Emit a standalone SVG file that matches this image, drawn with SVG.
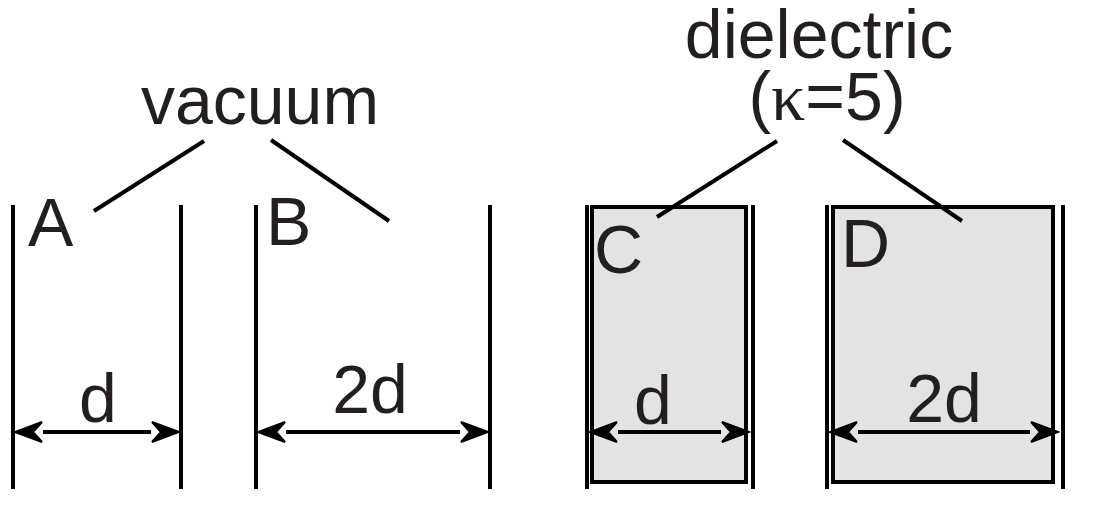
<svg xmlns="http://www.w3.org/2000/svg" width="1104" height="513" viewBox="0 0 1104 513">
<style>
.t{font-family:"Liberation Sans",Arial,sans-serif;font-size:68px;fill:#231f20}
.plate{stroke:#000;stroke-width:4;fill:none}
.lead{stroke:#000;stroke-width:4;fill:none}
.dim{stroke:#000;stroke-width:4;fill:none}
.diel{fill:#e3e3e3;stroke:#000;stroke-width:4}
</style>
<defs>
<marker id="ah" viewBox="0 0 32 26" refX="2" refY="13" markerWidth="32" markerHeight="26" markerUnits="userSpaceOnUse" orient="auto-start-reverse">
<path d="M30,13 L3,3 L12,13 L3,23 Z" fill="#000" stroke="#000" stroke-width="2" stroke-linejoin="miter"/>
</marker>
</defs>
<rect width="1104" height="513" fill="#fff"/>
<g id="labels">
<text class="t" x="260" y="124" text-anchor="middle">vacuum</text>
<text class="t" x="819" y="58" text-anchor="middle">dielectric</text>
<text class="t" x="827" y="120" text-anchor="middle">(<tspan font-family="Liberation Serif,serif">κ</tspan>=5)</text>
</g>
<g id="capA">
<line class="plate" x1="13" y1="205" x2="13" y2="489"/>
<line class="plate" x1="181" y1="205" x2="181" y2="489"/>
<text class="t" x="28" y="246">A</text>
<text class="t" x="98" y="422" text-anchor="middle">d</text>
</g>
<g id="capB">
<line class="plate" x1="256" y1="205" x2="256" y2="489"/>
<line class="plate" x1="490" y1="205" x2="490" y2="489"/>
<text class="t" x="266" y="245">B</text>
<text class="t" x="370" y="413" text-anchor="middle">2d</text>
</g>
<g id="capC">
<rect class="diel" x="592" y="207" width="154" height="275"/>
<line class="plate" x1="587" y1="205" x2="587" y2="489"/>
<line class="plate" x1="753" y1="205" x2="753" y2="489" stroke-width="3.5"/>
<text class="t" x="594" y="273">C</text>
<text class="t" x="653" y="424" text-anchor="middle">d</text>
</g>
<g id="capD">
<rect class="diel" x="833" y="207" width="220" height="275"/>
<line class="plate" x1="827" y1="205" x2="827" y2="489"/>
<line class="plate" x1="1063" y1="205" x2="1063" y2="489" stroke-width="3.5"/>
<text class="t" x="841" y="267">D</text>
<text class="t" x="944" y="422" text-anchor="middle">2d</text>
</g>
<g id="connectors">
<line class="lead" x1="204" y1="141" x2="94" y2="211"/>
<line class="lead" x1="271" y1="140" x2="389" y2="221"/>
<line class="lead" x1="777" y1="141" x2="657" y2="217"/>
<line class="lead" x1="843" y1="140" x2="962" y2="221"/>
<line class="dim" x1="43" y1="432" x2="151" y2="432" marker-start="url(#ah)" marker-end="url(#ah)"/>
<line class="dim" x1="286" y1="432" x2="460" y2="432" marker-start="url(#ah)" marker-end="url(#ah)"/>
<line class="dim" x1="618" y1="432" x2="721" y2="432" marker-start="url(#ah)" marker-end="url(#ah)"/>
<line class="dim" x1="858" y1="432" x2="1030" y2="432" marker-start="url(#ah)" marker-end="url(#ah)"/>
</g>
</svg>
